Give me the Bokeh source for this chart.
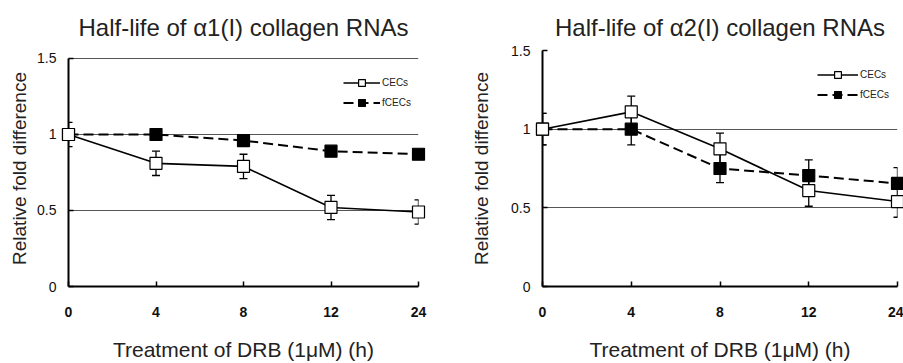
from bokeh.plotting import figure
from bokeh.layouts import row
from bokeh.models import (ColumnDataSource, Range1d, FixedTicker, NumeralTickFormatter,
                          Whisker, TeeHead, Legend, LegendItem)
from bokeh.embed import file_html
from bokeh.resources import INLINE

# ---------------- data ----------------
time_labels = ["0", "4", "8", "12", "24"]

a1_cecs = [1.00, 0.81, 0.79, 0.52, 0.49]
a1_cecs_err = [0.08, 0.08, 0.08, 0.08, 0.08]
a1_fcecs = [1.00, 1.00, 0.96, 0.89, 0.87]
a1_fcecs_err = [0.03, 0.03, 0.03, 0.03, 0.03]

a2_cecs = [1.00, 1.11, 0.875, 0.61, 0.54]
a2_cecs_err = [0.10, 0.10, 0.10, 0.10, 0.10]
a2_fcecs = [1.00, 1.00, 0.75, 0.705, 0.655]
a2_fcecs_err = [0.10, 0.10, 0.09, 0.10, 0.10]

y_ticks = [0, 0.5, 1, 1.5]
FONT = "Liberation Sans"


def make_panel(title, cecs, cecs_err, fcecs, fcecs_err, width, y_end,
               bl, br, ylabel_standoff, legend_loc, glyph_w):
    idx = list(range(len(time_labels)))
    p = figure(width=width, height=363, output_backend="svg", toolbar_location=None,
               x_range=Range1d(0, len(time_labels) - 1), y_range=Range1d(0, y_end),
               min_border_left=bl, min_border_right=br, min_border_top=50,
               min_border_bottom=76, title=title)
    p.outline_line_color = None
    p.background_fill_color = "white"
    p.title.text_font = FONT
    p.title.text_font_size = "24px"
    p.title.text_font_style = "normal"
    p.title.text_color = "#222222"
    p.title.align = "center"
    p.title.standoff = 19

    # axes
    p.xaxis.ticker = FixedTicker(ticks=idx)
    p.xaxis.major_label_overrides = {i: t for i, t in enumerate(time_labels)}
    p.yaxis.ticker = FixedTicker(ticks=y_ticks)
    p.yaxis.bounds = (0, 1.5)
    p.yaxis.formatter = NumeralTickFormatter(format="0.[0]")
    for ax in (p.xaxis, p.yaxis):
        ax.axis_line_width = 2
        ax.axis_line_color = "black"
        ax.major_tick_in = 5
        ax.major_tick_out = 0
        ax.major_tick_line_width = 1.5
        ax.minor_tick_line_color = None
        ax.major_label_text_font = FONT
        ax.major_label_text_font_size = "14px"
        ax.major_label_text_color = "#111111"
        ax.axis_label_text_font = FONT
        ax.axis_label_text_font_size = "21px"
        ax.axis_label_text_font_style = "normal"
        ax.axis_label_text_color = "#222222"
    p.yaxis.axis_label_text_font_size = "19px"
    p.xaxis.major_label_text_font_style = "bold"
    p.xaxis.major_label_standoff = 20
    p.xaxis.axis_label = "Treatment of DRB (1\u03bcM) (h)"
    p.xaxis.axis_label_standoff = 18
    p.yaxis.axis_label = "Relative fold difference"
    p.yaxis.major_label_standoff = 12
    p.yaxis.axis_label_standoff = ylabel_standoff

    p.xgrid.grid_line_color = None
    p.ygrid.ticker = FixedTicker(ticks=y_ticks)
    p.ygrid.grid_line_color = "#555555"
    p.ygrid.grid_line_width = 1

    src = ColumnDataSource(dict(
        x=idx, c=cecs, f=fcecs,
        c_lo=[v - e for v, e in zip(cecs, cecs_err)],
        c_hi=[v + e for v, e in zip(cecs, cecs_err)],
        f_lo=[v - e for v, e in zip(fcecs, fcecs_err)],
        f_hi=[v + e for v, e in zip(fcecs, fcecs_err)],
    ))
    for lo, hi in (("c_lo", "c_hi"), ("f_lo", "f_hi")):
        w = Whisker(source=src, base="x", lower=lo, upper=hi, dimension="height",
                    line_color="black", line_width=1.3,
                    upper_head=TeeHead(size=8, line_color="black", line_width=1.3),
                    lower_head=TeeHead(size=8, line_color="black", line_width=1.3))
        p.add_layout(w)

    l_f = p.line("x", "f", source=src, line_color="black", line_width=2,
                 line_dash="10 5")
    l_c = p.line("x", "c", source=src, line_color="black", line_width=1.6)
    s_f = p.scatter("x", "f", source=src, marker="square", size=12,
                    fill_color="black", line_color="black", line_width=1.2,
                    level="overlay")
    s_c = p.scatter("x", "c", source=src, marker="square", size=12,
                    fill_color="white", line_color="black", line_width=1.2,
                    level="overlay")

    legend = Legend(items=[LegendItem(label="CECs", renderers=[l_c, s_c]),
                           LegendItem(label="fCECs", renderers=[l_f, s_f])],
                    location=legend_loc, padding=0, margin=0, spacing=3,
                    glyph_width=glyph_w, glyph_height=17, label_height=17,
                    label_standoff=2, label_text_font=FONT,
                    label_text_font_size="10px", label_text_color="#222222",
                    background_fill_alpha=0, border_line_alpha=0)
    p.add_layout(legend)
    return p


# left panel: 1.5 sits 7px below the shared frame top
p1 = make_panel("Half-life of \u03b11(I) collagen RNAs", a1_cecs, a1_cecs_err,
                a1_fcecs, a1_fcecs_err, width=450, y_end=1.5 * 237 / 229,
                bl=68, br=32, ylabel_standoff=4,
                legend_loc=(275, 175), glyph_w=37)
p2 = make_panel("Half-life of \u03b12(I) collagen RNAs", a2_cecs, a2_cecs_err,
                a2_fcecs, a2_fcecs_err, width=453, y_end=1.5,
                bl=92, br=6, ylabel_standoff=16,
                legend_loc=(275, 183), glyph_w=41)

layout = row(p1, p2)
open("out.html", "w").write(file_html(layout, INLINE))
